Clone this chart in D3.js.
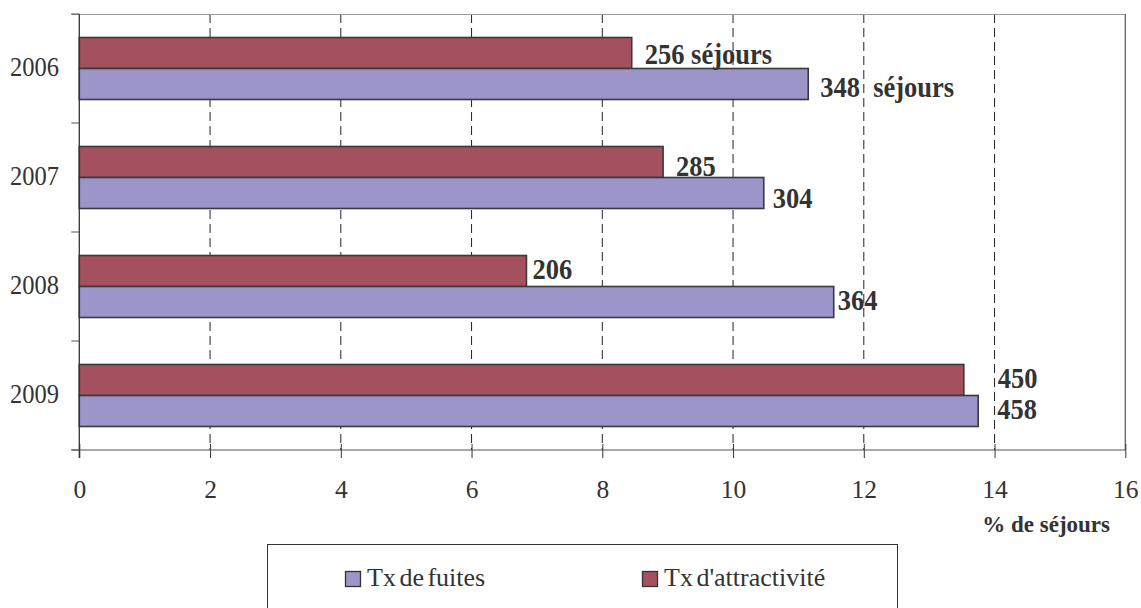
<!DOCTYPE html>
<html>
<head>
<meta charset="utf-8">
<script src="https://cdn.jsdelivr.net/npm/d3@7"></script>
<style>
  html, body { margin: 0; padding: 0; background: #fff; }
  svg { display: block; }
  text { font-family: "Liberation Serif", "Times New Roman", serif; fill: #333; }
</style>
</head>
<body>
<svg id="chart" width="1141" height="608"></svg>
<script>
// Years shown on the vertical axis (top to bottom)
const years = ["2006", "2007", "2008", "2009"];
// Series keys, in drawing order inside each year (top bar first)
const seriesKeys = ["attractivite", "fuites"];
const seriesNames = { fuites: "Tx de fuites", attractivite: "Tx d'attractivité" };
// Rates in % of stays
const attractivite = [8.45, 8.93, 6.84, 13.53];
const fuites = [11.15, 10.47, 11.54, 13.75];
// Stay counts written at the end of each bar
const attractiviteLabels = ["256 séjours", "285", "206", "450"];
const fuitesLabels = ["348\u00a0 séjours", "304", "364", "458"];
// X axis ticks
const xTicks = [0, 2, 4, 6, 8, 10, 12, 14, 16];
const xTitle = "% de séjours";

// Small hand placement of the value labels (dx from bar end, dy from bar centre)
const attrLabelDx = [13, 13, 6, 34];
const attrLabelDy = [11, 14, 8, 8];
const fuitesLabelDx = [12, 9, 4, 19];
const fuitesLabelDy = [13, 15, 8, 8];

const colors = { fuites: "#9b95c9", attractivite: "#a4505f" };
const ink = "#333";

const svg = d3.select("#chart");
const plot = { left: 79.3, right: 1125.3, top: 14, bottom: 450 };

const x = d3.scaleLinear().domain([0, 16]).range([plot.left, plot.right]);
const y = d3.scaleBand().domain(years).range([plot.top, plot.bottom])
  .paddingInner(0.431).paddingOuter(0.2155);
const ySub = d3.scaleBand().domain(seriesKeys).range([0, y.bandwidth()]);

const rows = years.map((yr, i) => ({
  year: yr,
  values: [
    { key: "attractivite", value: attractivite[i], label: attractiviteLabels[i], dx: attrLabelDx[i], dy: attrLabelDy[i] },
    { key: "fuites", value: fuites[i], label: fuitesLabels[i], dx: fuitesLabelDx[i], dy: fuitesLabelDy[i] }
  ]
}));

// Dashed vertical gridlines
svg.append("g")
  .selectAll("line")
  .data(xTicks.filter(t => t > 0 && t < 16))
  .join("line")
  .attr("x1", d => x(d)).attr("x2", d => x(d))
  .attr("y1", plot.top).attr("y2", plot.bottom)
  .attr("stroke", "#222").attr("stroke-width", 1)
  .attr("stroke-dasharray", "9,5");

// Plot frame: top and right edges
svg.append("line")
  .attr("x1", plot.left - 8).attr("x2", plot.right)
  .attr("y1", plot.top + 0.5).attr("y2", plot.top + 0.5)
  .attr("stroke", "#999").attr("stroke-width", 1);
svg.append("line")
  .attr("x1", plot.right).attr("x2", plot.right)
  .attr("y1", plot.top).attr("y2", plot.bottom)
  .attr("stroke", "#555").attr("stroke-width", 1.2);

// Bars
const groups = svg.append("g").selectAll("g")
  .data(rows)
  .join("g")
  .attr("transform", d => `translate(0,${y(d.year)})`);

groups.selectAll("rect")
  .data(d => d.values)
  .join("rect")
  .attr("x", x(0))
  .attr("y", d => ySub(d.key))
  .attr("width", d => x(d.value) - x(0))
  .attr("height", ySub.bandwidth())
  .attr("fill", d => colors[d.key])
  .attr("stroke", "#3a3a3a")
  .attr("stroke-width", 1.6);

// Value labels
groups.selectAll("text")
  .data(d => d.values)
  .join("text")
  .attr("transform", d => `translate(${x(d.value) + d.dx},${ySub(d.key) + ySub.bandwidth() / 2 + d.dy}) scale(1,1.1)`)
  .attr("font-size", 26.5)
  .attr("font-weight", "bold")
  .text(d => d.label);

// X axis
const xAxis = svg.append("g")
  .attr("transform", `translate(0,${plot.bottom})`)
  .call(d3.axisBottom(x).tickValues(xTicks).tickSize(8).tickPadding(22).tickFormat(d3.format("d")));
xAxis.select(".domain").remove();
xAxis.selectAll(".tick line").attr("y1", -6).attr("stroke", ink).attr("stroke-width", 1);
xAxis.selectAll(".tick text")
  .attr("font-size", 25.5).attr("fill", ink);
svg.append("line")
  .attr("x1", plot.left - 8).attr("x2", plot.right)
  .attr("y1", plot.bottom).attr("y2", plot.bottom)
  .attr("stroke", "#555").attr("stroke-width", 1.2);

// Y axis: line, boundary ticks between years, year labels
svg.append("line")
  .attr("x1", plot.left).attr("x2", plot.left)
  .attr("y1", plot.top).attr("y2", plot.bottom + 8)
  .attr("stroke", ink).attr("stroke-width", 1.3);
const boundaries = d3.range(years.length + 1).map(i => plot.top + i * y.step());
svg.append("g").selectAll("line")
  .data(boundaries)
  .join("line")
  .attr("x1", plot.left - 8).attr("x2", plot.left)
  .attr("y1", d => d).attr("y2", d => d)
  .attr("stroke", "#555").attr("stroke-width", 1);
svg.append("g").selectAll("text")
  .data(years)
  .join("text")
  .attr("transform", d => `translate(59,${y(d) + y.bandwidth() / 2 + 7}) scale(1,1.1)`)
  .attr("text-anchor", "end")
  .attr("font-size", 24.5)
  .text(d => d);

// Axis title
svg.append("text")
  .attr("x", 1110).attr("y", 532)
  .attr("text-anchor", "end")
  .attr("font-size", 23)
  .attr("font-weight", "bold")
  .text(xTitle);

// Legend
const legend = svg.append("g");
legend.append("rect")
  .attr("x", 267.5).attr("y", 544.5)
  .attr("width", 630).attr("height", 90)
  .attr("fill", "none").attr("stroke", ink).attr("stroke-width", 1);
const legendItems = [
  { key: "fuites", x: 345 },
  { key: "attractivite", x: 642 }
];
const li = legend.selectAll("g.item")
  .data(legendItems)
  .join("g")
  .attr("class", "item")
  .attr("transform", d => `translate(${d.x},571)`);
li.append("rect")
  .attr("x", 0.5).attr("y", 0.5).attr("width", 15).attr("height", 15)
  .attr("fill", d => colors[d.key])
  .attr("stroke", "#333").attr("stroke-width", 1.3);
li.append("text")
  .attr("x", 22).attr("y", 15)
  .attr("font-size", 26)
  .attr("word-spacing", "-3")
  .text(d => seriesNames[d.key]);
</script>
</body>
</html>
